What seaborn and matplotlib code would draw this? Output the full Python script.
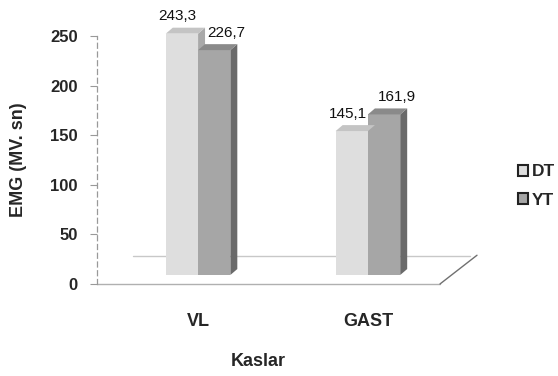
import pandas as pd
import matplotlib
matplotlib.use("Agg")
import matplotlib.pyplot as plt
from matplotlib.patches import Polygon
from matplotlib.transforms import offset_copy
import seaborn as sns

# values
muscles = ["VL", "GAST"]
groups = ["DT", "YT"]
dt_values = [243.3, 145.1]
yt_values = [226.7, 161.9]

front_colors = {"DT": "#dedede", "YT": "#a6a6a6"}
side_colors = {"DT": "#a9a9a9", "YT": "#6a6a6a"}
top_colors = {"DT": "#c4c4c4", "YT": "#8a8a8a"}

rows = []
for m, d, y in zip(muscles, dt_values, yt_values):
    rows.append({"Kaslar": m, "Grup": "DT", "EMG": d})
    rows.append({"Kaslar": m, "Grup": "YT", "EMG": y})
df = pd.DataFrame(rows)

sns.set_style("white")
plt.rcParams["font.family"] = ["Liberation Sans", "DejaVu Sans"]

fig = plt.figure(figsize=(5.58, 3.76), dpi=100)
ax = fig.add_axes([97 / 558, 1 - 284 / 376, 380 / 558, 248 / 376])

sns.barplot(data=df, x="Kaslar", y="EMG", hue="Grup", order=muscles,
            hue_order=groups, palette=front_colors, width=0.38,
            saturation=1, edgecolor="none", ax=ax, legend=False, zorder=3)

ax.set_xlim(-0.595, 1.642)
ax.set_ylim(0, 250)

# floor plane
ax.plot([-0.595, 1.424], [0, 0], color="#b0b0b0", lw=1, zorder=1, clip_on=False)
ax.plot([-0.383, 1.60], [28, 28], color="#c8c8c8", lw=1, zorder=1, clip_on=False)
ax.plot([1.424, 1.642], [0, 29], color="#707070", lw=1, zorder=1, clip_on=False)

# bars sit in the middle of the floor depth: shift them up a little
depth = offset_copy(ax.transData, fig=fig, x=0, y=9, units="dots")

# pseudo-3D faces on bars
dx, dy = 0.041, 6
for container, grp in zip(ax.containers, groups):
    for p in container:
        p.set_transform(depth)
        p.set_clip_on(False)
        x0 = p.get_x()
        w = p.get_width()
        h = p.get_height()
        side = Polygon([(x0 + w, 0), (x0 + w + dx, dy), (x0 + w + dx, h + dy), (x0 + w, h)],
                       closed=True, facecolor=side_colors[grp], edgecolor="none",
                       zorder=2, transform=depth, clip_on=False)
        top = Polygon([(x0, h), (x0 + dx, h + dy), (x0 + w + dx, h + dy), (x0 + w, h)],
                      closed=True, facecolor=top_colors[grp], edgecolor="none",
                      zorder=4, transform=depth, clip_on=False)
        ax.add_patch(side)
        ax.add_patch(top)
        xoff = -3 if grp == "DT" else 9
        ax.annotate(f"{h:.1f}".replace(".", ","), (x0 + w / 2, h),
                    xytext=(xoff, 14), textcoords="offset points",
                    ha="center", va="bottom", fontsize=11, color="#111111",
                    annotation_clip=False)

# axes styling
for s in ["top", "right", "bottom"]:
    ax.spines[s].set_visible(False)
ax.spines["left"].set_color("#999999")
ax.spines["left"].set_linestyle((0, (4, 3)))
ax.spines["left"].set_linewidth(0.9)
ax.set_yticks([0, 50, 100, 150, 200, 250])
ax.tick_params(axis="y", length=5, color="#999999", width=0.8, left=True, pad=9)
ax.tick_params(axis="x", length=0, pad=21)
for lbl in ax.get_yticklabels():
    lbl.set_fontweight("bold")
    lbl.set_fontsize(12)
for lbl in ax.get_xticklabels():
    lbl.set_fontweight("bold")
    lbl.set_fontsize(13)

ax.set_ylabel("EMG (MV. sn)", fontsize=13, fontweight="bold")
ax.yaxis.set_label_coords(-70 / 380, 0.5)
ax.set_xlabel("Kaslar", fontsize=13, fontweight="bold")
ax.xaxis.set_label_coords(161 / 380, -69 / 248)

# legend
handles = [plt.Rectangle((0, 0), 1, 1, facecolor=front_colors[g], edgecolor="#222222", lw=1.5)
           for g in groups]
leg = fig.legend(handles, groups, loc="center left", bbox_to_anchor=(502 / 558, 1 - 186 / 376),
                 frameon=False, handlelength=0.6, handleheight=0.6, handletextpad=0.2,
                 labelspacing=0.75, prop={"weight": "bold", "size": 12.5})

fig.savefig("out.png", dpi=100)
plt.close(fig)
